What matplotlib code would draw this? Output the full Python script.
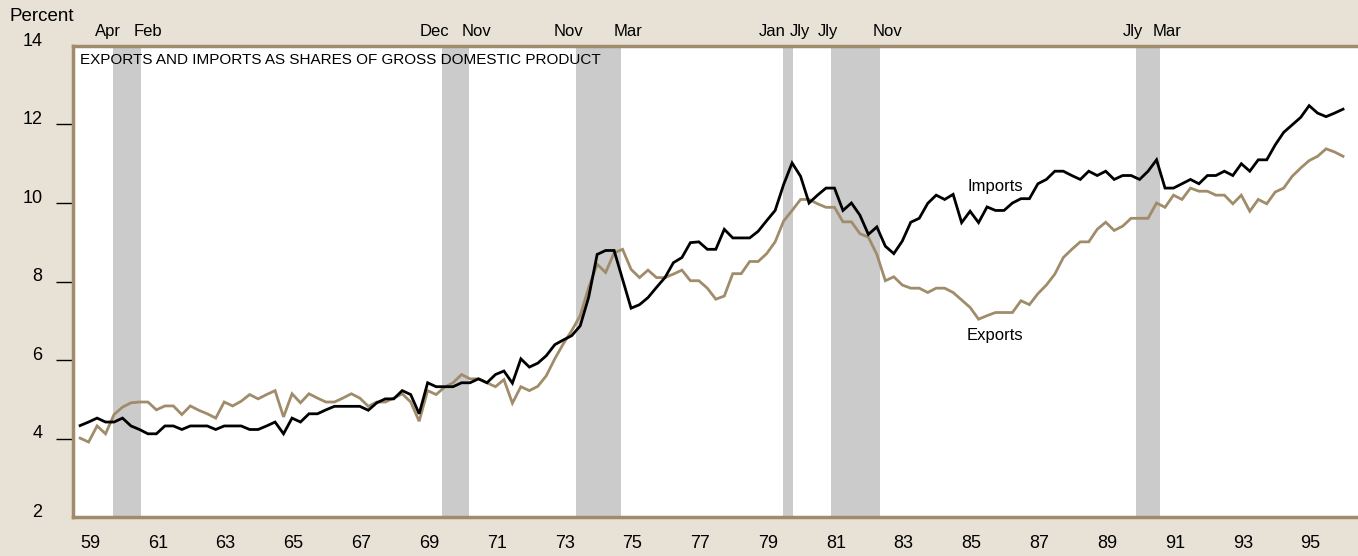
import matplotlib
matplotlib.use("Agg")
import matplotlib.pyplot as plt
from matplotlib.transforms import ScaledTranslation
import numpy as np

# quarterly shares of GDP, percent, 1959Q1 - 1996Q2
imports = [
    4.33, 4.42, 4.52, 4.42,   # 1959
    4.42, 4.52, 4.32, 4.23,   # 1960
    4.12, 4.12, 4.32, 4.32,   # 1961
    4.23, 4.32, 4.32, 4.32,   # 1962
    4.23, 4.32, 4.32, 4.32,   # 1963
    4.23, 4.23, 4.32, 4.42,   # 1964
    4.12, 4.52, 4.42, 4.63,   # 1965
    4.63, 4.73, 4.82, 4.82,   # 1966
    4.82, 4.82, 4.72, 4.91,   # 1967
    5.01, 5.01, 5.22, 5.12,   # 1968
    4.63, 5.42, 5.32, 5.32,   # 1969
    5.32, 5.42, 5.42, 5.52,   # 1970
    5.42, 5.63, 5.72, 5.41,   # 1971
    6.03, 5.82, 5.92, 6.11,   # 1972
    6.39, 6.51, 6.62, 6.87,   # 1973
    7.60, 8.69, 8.79, 8.79,   # 1974
    8.05, 7.32, 7.41, 7.59,   # 1975
    7.85, 8.10, 8.48, 8.61,   # 1976
    8.99, 9.01, 8.82, 8.82,   # 1977
    9.33, 9.11, 9.11, 9.11,   # 1978
    9.28, 9.55, 9.81, 10.47,  # 1979
    11.02, 10.68, 10.00, 10.20,  # 1980
    10.38, 10.38, 9.81, 10.00,   # 1981
    9.69, 9.20, 9.39, 8.90,   # 1982
    8.71, 9.03, 9.51, 9.61,   # 1983
    9.99, 10.20, 10.09, 10.22,   # 1984
    9.50, 9.79, 9.50, 9.90,   # 1985
    9.81, 9.81, 10.00, 10.11,    # 1986
    10.11, 10.49, 10.60, 10.81,  # 1987
    10.81, 10.70, 10.60, 10.81,  # 1988
    10.70, 10.81, 10.60, 10.70,  # 1989
    10.70, 10.60, 10.81, 11.10,  # 1990
    10.38, 10.38, 10.49, 10.60,  # 1991
    10.49, 10.70, 10.70, 10.81,  # 1992
    10.70, 11.00, 10.81, 11.10,  # 1993
    11.10, 11.48, 11.80, 11.99,  # 1994
    12.18, 12.48, 12.29, 12.20,  # 1995
    12.29, 12.39,                # 1996
]

exports = [
    4.01, 3.91, 4.32, 4.12,   # 1959
    4.61, 4.80, 4.91, 4.93,   # 1960
    4.93, 4.73, 4.83, 4.83,   # 1961
    4.61, 4.83, 4.72, 4.63,   # 1962
    4.52, 4.93, 4.83, 4.95,   # 1963
    5.12, 5.01, 5.12, 5.22,   # 1964
    4.55, 5.14, 4.91, 5.14,   # 1965
    5.03, 4.93, 4.93, 5.03,   # 1966
    5.14, 5.03, 4.82, 4.93,   # 1967
    4.93, 5.03, 5.14, 4.93,   # 1968
    4.44, 5.22, 5.12, 5.31,   # 1969
    5.42, 5.63, 5.52, 5.52,   # 1970
    5.42, 5.32, 5.50, 4.90,   # 1971
    5.32, 5.22, 5.33, 5.60,   # 1972
    6.03, 6.41, 6.75, 7.13,   # 1973
    7.85, 8.44, 8.23, 8.73,   # 1974
    8.82, 8.31, 8.10, 8.29,   # 1975
    8.10, 8.10, 8.19, 8.29,   # 1976
    8.02, 8.02, 7.83, 7.55,   # 1977
    7.63, 8.20, 8.20, 8.51,   # 1978
    8.51, 8.71, 9.01, 9.54,   # 1979
    9.81, 10.09, 10.09, 9.98,    # 1980
    9.89, 9.89, 9.52, 9.52,   # 1981
    9.22, 9.13, 8.69, 8.02,   # 1982
    8.12, 7.91, 7.83, 7.83,   # 1983
    7.72, 7.83, 7.83, 7.72,   # 1984
    7.53, 7.34, 7.04, 7.13,   # 1985
    7.21, 7.21, 7.21, 7.51,   # 1986
    7.41, 7.69, 7.91, 8.19,   # 1987
    8.61, 8.82, 9.01, 9.01,   # 1988
    9.33, 9.51, 9.30, 9.41,   # 1989
    9.61, 9.61, 9.61, 10.00,  # 1990
    9.89, 10.20, 10.09, 10.38,   # 1991
    10.30, 10.30, 10.20, 10.20,  # 1992
    9.98, 10.20, 9.79, 10.09,    # 1993
    9.98, 10.28, 10.38, 10.68,   # 1994
    10.89, 11.08, 11.19, 11.38,  # 1995
    11.30, 11.19,                # 1996
]

# recessions (decimal years as drawn) and their month labels
rec_start = [1960.18, 1969.88, 1973.84, 1979.94, 1981.36, 1990.36]
rec_end = [1961.01, 1970.68, 1975.17, 1980.24, 1982.81, 1991.07]
rec_start_lbl = ["Apr", "Dec", "Nov", "Jan", "Jly", "Jly"]
rec_end_lbl = ["Feb", "Nov", "Mar", "Jly", "Nov", "Mar"]

year_ticks = list(range(1959, 1996, 2))
y_ticks = [2, 4, 6, 8, 10, 12, 14]

BG = "#e7e1d6"
TAN = "#a08c6a"
SHADE = "#cbcbcb"

plt.rcParams["font.family"] = ["Liberation Sans", "DejaVu Sans"]

# quarter k plotted at the middle of the quarter's last month
k = np.arange(len(imports))
t = 1959 + (k // 4) + (3 * (k % 4 + 1) - 0.5) / 12

fig = plt.figure(figsize=(13.58, 5.56), dpi=100, facecolor=BG)
ax = fig.add_axes([0.0538, 0.0701, 0.9462, 0.8472])
ax.set_facecolor("white")

for s, e, ls, le in zip(rec_start, rec_end, rec_start_lbl, rec_end_lbl):
    ax.axvspan(s, e, color=SHADE, lw=0, zorder=1)
    off = min(0.22, 0.3 * (e - s))
    ax.text(s + off, 14.18, ls, ha="right", va="bottom", fontsize=12, clip_on=False)
    ax.text(e - off, 14.18, le, ha="left", va="bottom", fontsize=12, clip_on=False)

ax.plot(t, exports, color=TAN, lw=2.0, zorder=3, solid_joinstyle="miter")
ax.plot(t, imports, color="black", lw=2.0, zorder=4, solid_joinstyle="miter")

ax.text(1986.2, 10.42, "Imports", ha="center", va="center", fontsize=12)
ax.text(1986.2, 6.62, "Exports", ha="center", va="center", fontsize=12)
ax.text(1959.2, 13.82, "EXPORTS AND IMPORTS AS SHARES OF GROSS DOMESTIC PRODUCT",
        ha="left", va="top", fontsize=11)

ax.set_xlim(1959, 1996.9)
ax.set_ylim(2, 14)

ax.set_xticks([y + 0.5 for y in year_ticks])
ax.set_xticklabels([str(y)[2:] for y in year_ticks], fontsize=13)
ax.tick_params(axis="x", length=0, pad=13)

ax.set_yticks(y_ticks)
ax.set_yticklabels([str(v) for v in y_ticks], fontsize=13)
ax.tick_params(axis="y", length=12, width=1, pad=10, direction="out")
for tk in ax.yaxis.get_major_ticks():
    if tk.get_loc() in (2, 14):
        tk.tick1line.set_visible(False)
# labels sit a little above their ticks in the original
shift = ScaledTranslation(0, 5 / 72, fig.dpi_scale_trans)
for lbl in ax.get_yticklabels():
    lbl.set_transform(lbl.get_transform() + shift)

for side in ["left", "top", "bottom"]:
    ax.spines[side].set_color(TAN)
    ax.spines[side].set_linewidth(2.5)
ax.spines["right"].set_visible(False)

fig.text(0.007, 0.955, "Percent", ha="left", va="bottom", fontsize=13.5)

fig.savefig("out.png", dpi=100, facecolor=BG)
